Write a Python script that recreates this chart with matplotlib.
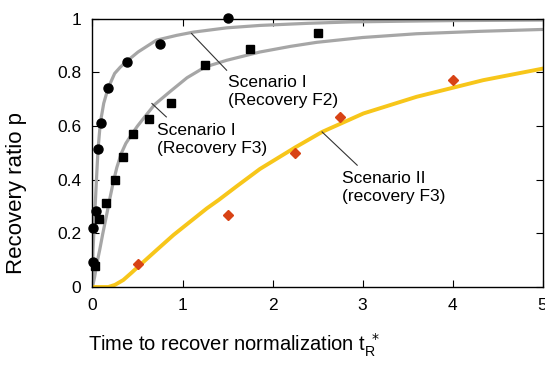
import matplotlib
matplotlib.use("Agg")
import matplotlib.pyplot as plt

plt.rcParams['font.family'] = ['Liberation Sans', 'DejaVu Sans']

# measured points
circ_x = [0.01, 0.01, 0.035, 0.065, 0.09, 0.176, 0.38, 0.75, 1.51]
circ_y = [0.094, 0.22, 0.284, 0.513, 0.612, 0.74, 0.839, 0.904, 1.003]
sq_x = [0.028, 0.076, 0.146, 0.25, 0.343, 0.446, 0.624, 0.872, 1.25, 1.75, 2.51]
sq_y = [0.079, 0.252, 0.312, 0.398, 0.485, 0.572, 0.628, 0.684, 0.829, 0.889, 0.945]
dia_x = [0.50, 1.51, 2.25, 2.75, 4.0]
dia_y = [0.084, 0.268, 0.498, 0.634, 0.773]

# model curves
f2_x = [0, 0.006, 0.024, 0.042, 0.061, 0.087, 0.125, 0.172, 0.246, 0.31, 0.376, 0.506,
        0.71, 0.935, 1.12, 1.49, 1.86, 2.4, 2.86, 3.5, 4.0, 5.0]
f2_y = [0, 0.138, 0.262, 0.386, 0.51, 0.612, 0.685, 0.74, 0.796, 0.82, 0.84, 0.876,
        0.92, 0.938, 0.95, 0.966, 0.975, 0.983, 0.988, 0.991, 0.993, 0.995]
f3_x = [0, 0.024, 0.05, 0.08, 0.115, 0.153, 0.19, 0.228, 0.27, 0.32, 0.37, 0.43, 0.5,
        0.58, 0.69, 0.86, 1.05, 1.25, 1.49, 1.86, 2.2, 2.49, 3.0, 3.6, 4.3, 5.0]
f3_y = [0, 0.038, 0.09, 0.138, 0.2, 0.262, 0.325, 0.386, 0.445, 0.498, 0.535, 0.566, 0.6,
        0.634, 0.68, 0.728, 0.78, 0.82, 0.845, 0.876, 0.897, 0.912, 0.93, 0.944, 0.953, 0.96]
s2_x = [0, 0.176, 0.25, 0.342, 0.43, 0.528, 0.713, 0.9, 1.083, 1.27, 1.40, 1.6, 1.86,
        2.25, 2.55, 3.01, 3.6, 4.34, 5.0]
s2_y = [0, 0, 0.008, 0.026, 0.052, 0.082, 0.138, 0.194, 0.243, 0.293, 0.324, 0.375, 0.44,
        0.52, 0.578, 0.647, 0.709, 0.771, 0.814]

fig = plt.figure(figsize=(5.45, 3.65), dpi=100)
ax = fig.add_axes([0.1697, 0.2137, 0.826, 0.735])

ax.plot(f2_x, f2_y, color='#a6a6a6', lw=2.3, zorder=2)
ax.plot(f3_x, f3_y, color='#a6a6a6', lw=2.3, zorder=2)
ax.plot(s2_x, s2_y, color='#f7c61a', lw=2.8, zorder=2)

ax.plot(circ_x, circ_y, 'o', color='black', ms=6.5, clip_on=False, zorder=3)
ax.plot(sq_x, sq_y, 's', color='black', ms=6, clip_on=False, zorder=3)
ax.plot(dia_x, dia_y, 'D', color='#d84315', ms=5.5, clip_on=False, zorder=3)

# annotations with leader lines
ax.plot([1.1, 1.49], [0.945, 0.808], color='#333333', lw=0.8)
ax.text(1.51, 0.728, 'Scenario I\n(Recovery F2)', fontsize=12.5, va='center', linespacing=1.25)
ax.plot([0.66, 0.82], [0.684, 0.634], color='#333333', lw=0.8)
ax.text(0.713, 0.551, 'Scenario I\n(Recovery F3)', fontsize=12.5, va='center', linespacing=1.25)
ax.plot([2.55, 2.94], [0.578, 0.454], color='#333333', lw=0.8)
ax.text(2.77, 0.37, 'Scenario II\n(recovery F3)', fontsize=12.5, va='center', linespacing=1.25)

ax.set_xlim(0, 5)
ax.set_ylim(0, 1)
ax.set_xticks([0, 1, 2, 3, 4, 5])
ax.set_yticks([0, 0.2, 0.4, 0.6, 0.8, 1])
ax.set_yticklabels(['0', '0.2', '0.4', '0.6', '0.8', '1'])
ax.tick_params(direction='in', top=True, right=True, labelsize=12.5, length=5, pad=8)
for s in ax.spines.values():
    s.set_linewidth(1.0)

ax.set_xlabel(r'Time to recover normalization t$_\mathregular{R}^{\ *}$', fontsize=14.5,
              ha='left', va='top')
ax.xaxis.set_label_coords(-0.01, -0.165)
ax.set_ylabel('Recovery ratio p', fontsize=16, ha='center', va='center')
ax.yaxis.set_label_coords(-0.168, 0.35)

fig.savefig('out.png', dpi=100)
